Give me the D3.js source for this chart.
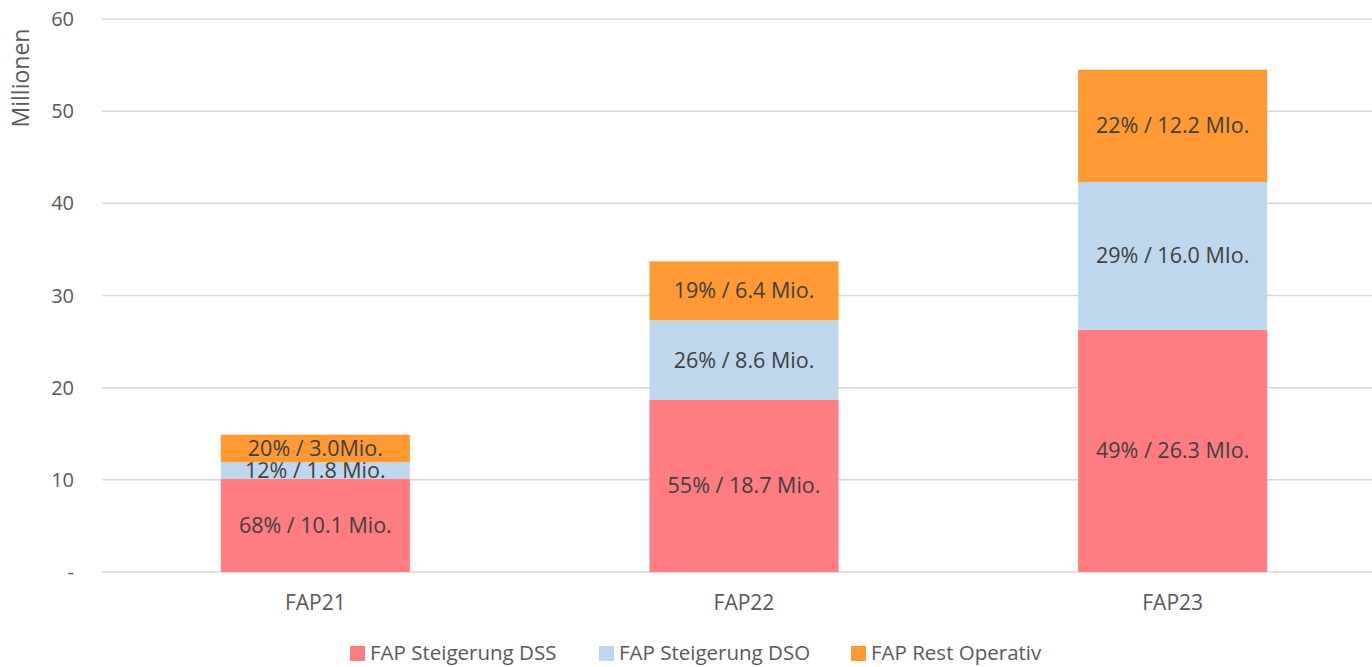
<!DOCTYPE html>
<html>
<head>
<meta charset="utf-8">
<script src="https://cdn.jsdelivr.net/npm/d3@7"></script>
<style>
  body { margin: 0; background: #fff; }
  svg { font-family: "Open Sans", "Liberation Sans", sans-serif; }
</style>
</head>
<body>
<svg width="1372" height="667"></svg>
<script>
// data
var categories = ["FAP21", "FAP22", "FAP23"];
var seriesNames = ["FAP Steigerung DSS", "FAP Steigerung DSO", "FAP Rest Operativ"];
var dss = [10.1, 18.7, 26.3];
var dso = [1.8, 8.6, 16.0];
var rest = [3.0, 6.4, 12.2];
var dssLabels = ["68% / 10.1 Mio.", "55% / 18.7 Mio.", "49% / 26.3 MIo."];
var dsoLabels = ["12% / 1.8 Mio.", "26% / 8.6 Mio.", "29% / 16.0 MIo."];
var restLabels = ["20% / 3.0Mio.", "19% / 6.4 Mio.", "22% / 12.2 MIo."];
var yTicks = [0, 10, 20, 30, 40, 50, 60];

var colors = ["#ff7c80", "#bdd7ee", "#ff9933"];

var svg = d3.select("svg"),
    width = +svg.attr("width"),
    height = +svg.attr("height");

var rows = categories.map(function(c, i) {
  return { cat: c, dss: dss[i], dso: dso[i], rest: rest[i] };
});
var labels = [dssLabels, dsoLabels, restLabels];

var x = d3.scaleBand()
    .domain(categories)
    .range([101, 1387])
    .paddingInner(0.559)
    .paddingOuter(0.2795);

var y = d3.scaleLinear()
    .domain([0, 60])
    .range([572, 19]);

// grid
svg.append("g")
  .selectAll("line")
  .data(yTicks)
  .enter()
  .append("line")
  .attr("x1", 102)
  .attr("x2", width)
  .attr("y1", d => y(d))
  .attr("y2", d => y(d))
  .attr("stroke", "#d9d9d9")
  .attr("stroke-width", 1.5);

// y tick labels
svg.append("g")
  .selectAll("text")
  .data(yTicks)
  .enter()
  .append("text")
  .attr("x", 74)
  .attr("y", d => y(d))
  .attr("dy", "0.35em")
  .attr("text-anchor", "end")
  .attr("fill", "#595959")
  .style("font-size", "20px")
  .text(d => d === 0 ? "-" : d);

svg.append("text")
  .attr("transform", "translate(29,78) rotate(-90)")
  .attr("text-anchor", "middle")
  .attr("fill", "#595959")
  .style("font-size", "23px")
  .text("Millionen");

var stack = d3.stack().keys(["dss", "dso", "rest"]);
var layers = stack(rows);

var g = svg.append("g")
  .selectAll("g")
  .data(layers)
  .enter()
  .append("g")
  .attr("fill", (d, i) => colors[i]);

g.selectAll("rect")
  .data(d => d)
  .enter()
  .append("rect")
  .attr("x", d => x(d.data.cat))
  .attr("width", x.bandwidth())
  .attr("y", d => y(d[1]))
  .attr("height", d => y(d[0]) - y(d[1]));

g.selectAll("text")
  .data((d, i) => d.map(function(p, j) { return { p: p, label: labels[i][j] }; }))
  .enter()
  .append("text")
  .attr("x", d => x(d.p.data.cat) + x.bandwidth() / 2)
  .attr("y", d => (y(d.p[0]) + y(d.p[1])) / 2)
  .attr("dy", "0.35em")
  .attr("text-anchor", "middle")
  .attr("fill", "#404040")
  .style("font-size", "21.5px")
  .text(d => d.label);

// x labels
svg.append("g")
  .selectAll("text")
  .data(categories)
  .enter()
  .append("text")
  .attr("x", d => x(d) + x.bandwidth() / 2)
  .attr("y", 603)
  .attr("dy", "0.35em")
  .attr("text-anchor", "middle")
  .attr("fill", "#595959")
  .style("font-size", "21px")
  .text(d => d);

// legend
var legendX = [350, 599, 851];
var leg = svg.append("g")
  .selectAll("g")
  .data(seriesNames)
  .enter()
  .append("g")
  .attr("transform", (d, i) => "translate(" + legendX[i] + ",653)");

leg.append("rect")
  .attr("x", 0)
  .attr("y", -7)
  .attr("width", 15)
  .attr("height", 15)
  .attr("fill", (d, i) => colors[i]);

leg.append("text")
  .attr("x", 20)
  .attr("y", 0)
  .attr("dy", "0.35em")
  .attr("fill", "#595959")
  .style("font-size", "20.5px")
  .text(d => d);
</script>
</body>
</html>
